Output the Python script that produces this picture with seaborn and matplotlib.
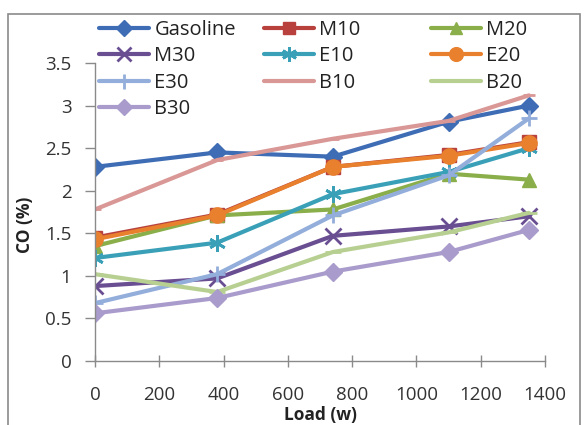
import matplotlib
matplotlib.use("Agg")
import matplotlib.pyplot as plt
import seaborn as sns
import pandas as pd
from matplotlib.patches import Rectangle

load = [0, 380, 740, 1100, 1350]
gasoline = [2.28, 2.45, 2.40, 2.81, 3.00]
m10 = [1.45, 1.72, 2.28, 2.42, 2.57]
m20 = [1.35, 1.71, 1.78, 2.20, 2.13]
m30 = [0.88, 0.97, 1.47, 1.58, 1.70]
e10 = [1.21, 1.39, 1.96, 2.22, 2.50]
e20 = [1.43, 1.71, 2.28, 2.41, 2.56]
e30 = [0.68, 1.02, 1.71, 2.18, 2.85]
b10 = [1.78, 2.36, 2.61, 2.82, 3.12]
b20 = [1.02, 0.81, 1.28, 1.51, 1.74]
b30 = [0.56, 0.74, 1.05, 1.28, 1.54]

names = ["Gasoline", "M10", "M20", "M30", "E10", "E20", "E30", "B10", "B20", "B30"]
series = [gasoline, m10, m20, m30, e10, e20, e30, b10, b20, b30]
colors = ["#3E6DB5", "#B8413D", "#8AAE4A", "#6A4E92", "#3AA0B8", "#E8802E",
          "#93AEDB", "#D99795", "#B7D092", "#A99BCB"]
markers = ["D", "s", "^", "x", (6, 2, 0), "o", "+", "_", "_", "D"]
msizes = [9, 10, 10, 11, 12, 11, 12, 8, 12, 9]

sns.set_theme(style="white")
plt.rcParams['font.family'] = ['Open Sans', 'DejaVu Sans']

fig = plt.figure(figsize=(5.85, 4.25), dpi=100)
ax = fig.add_axes([95/585, 1-361/425, 450/585, 298/425])

handles = []
for name, vals, c, m, ms in zip(names, series, colors, markers, msizes):
    df = pd.DataFrame({"Load": load, "CO": vals})
    sns.lineplot(data=df, x="Load", y="CO", ax=ax, color=c, linewidth=3,
                 marker=m, markersize=ms, markeredgecolor=c, markerfacecolor=c,
                 markeredgewidth=2 if m in ("x", "+", "_") or isinstance(m, tuple) else 1,
                 label=name, legend=False)
    handles.append(ax.lines[-1])

ax.set_xlim(0, 1400)
ax.set_ylim(0, 3.5)
ax.set_xticks(range(0, 1401, 200))
ax.set_yticks([0, 0.5, 1, 1.5, 2, 2.5, 3, 3.5])
ax.set_yticklabels(["0", "0.5", "1", "1.5", "2", "2.5", "3", "3.5"])
for s in ["top", "right"]:
    ax.spines[s].set_visible(False)
for s in ["left", "bottom"]:
    ax.spines[s].set_color("#8a8a8a")
    ax.spines[s].set_linewidth(1)
ax.tick_params(axis="y", direction="out", length=7, width=1, color="#8a8a8a",
               labelsize=13.5, pad=10, labelcolor="#333333", left=True)
ax.tick_params(axis="x", direction="inout", length=8, width=1, color="#8a8a8a",
               labelsize=13.5, pad=14, labelcolor="#333333", bottom=True)
ax.set_xlabel("Load (w)", fontsize=12.5, fontweight="bold", color="#222222")
ax.set_ylabel("CO (%)", fontsize=12.5, fontweight="bold", color="#222222")
ax.xaxis.set_label_coords(0.5, -0.152)
ax.yaxis.set_label_coords(-0.135, 0.456)

# Legend: three columns placed like the original
cols = [[0, 3, 6, 9], [1, 4, 7], [2, 5, 8]]
xs = [99/585, 264/585, 431/585]
for xi, idx in zip(xs, cols):
    leg = fig.legend([handles[i] for i in idx], [names[i] for i in idx],
                     loc="upper left", bbox_to_anchor=(xi, 1 - 20/425),
                     frameon=False, fontsize=14.5, handlelength=2.5,
                     handletextpad=0.25, labelspacing=0.32, borderpad=0,
                     borderaxespad=0, markerscale=0.9)
    for t in leg.get_texts():
        t.set_color("#222222")

fig.patches.append(Rectangle((8/585, -0.1), (580-8)/585, 1.1 - 14/425,
                             transform=fig.transFigure, fill=False,
                             edgecolor="#8a8a8a", linewidth=1.2))

fig.savefig("out.png", dpi=100)
